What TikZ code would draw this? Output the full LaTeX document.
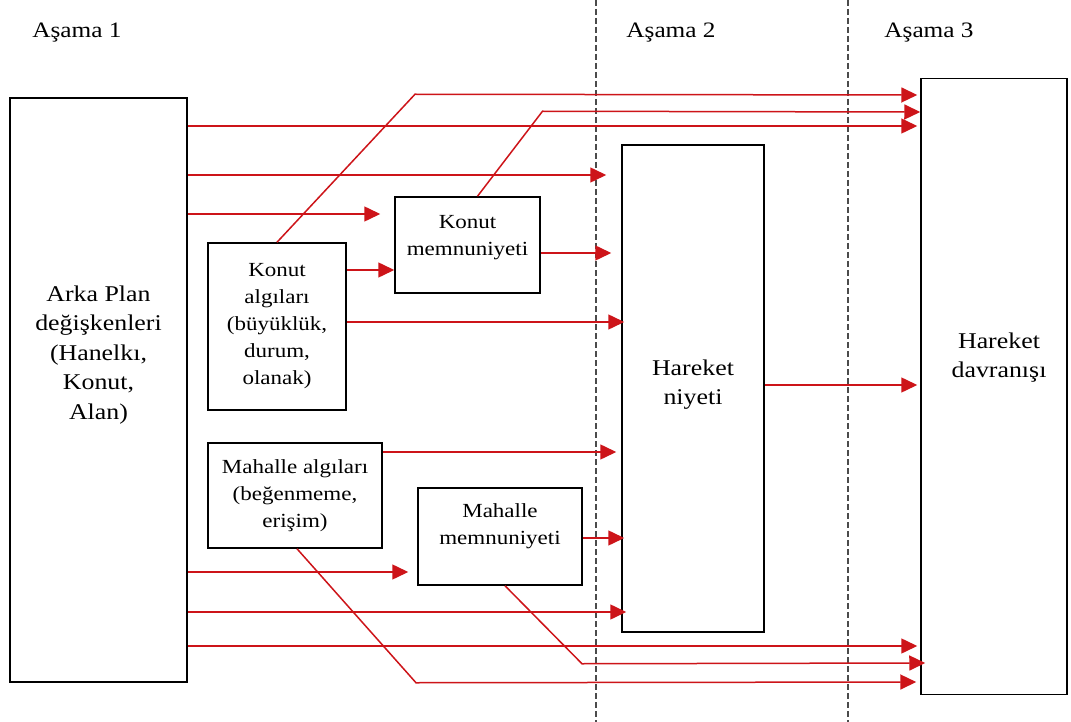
\documentclass[tikz,border=0pt]{standalone}
\usepackage{fontspec}
\setmainfont{Liberation Serif}[FakeStretch=1.15]
\usetikzlibrary{arrows.meta, positioning}
\definecolor{linkred}{RGB}{205,20,25}
\definecolor{phasegray}{RGB}{75,75,75}

\begin{document}
\begin{tikzpicture}[x=1pt, y=-1pt, >={Triangle[length=16pt,width=15pt]},
    box/.style={draw, line width=1.5pt, inner sep=0pt},
    smalltxt/.style={align=center, font={\fontsize{20}{27}\selectfont}},
    bigtxt/.style={align=center, font={\fontsize{22.5}{29.5}\selectfont}},
    phase/.style={anchor=base, font={\fontsize{22}{26}\selectfont}},
    phaseline/.style={draw=phasegray, line width=2pt, dash pattern=on 6pt off 3pt},
    link/.style={->, draw=linkred, line width=1.5pt}]
    \useasboundingbox[fill=white] (0,0) rectangle (1071,722);

    % Phase titles and borders
    \node[phase] (a1) at (77,38) {Aşama 1};
    \node[phase] (a2) at (671,38) {Aşama 2};
    \node[phase] (a3) at (929,38) {Aşama 3};
    \coordinate (d1top) at (596,0);
    \coordinate (d1bot) at (596,722);
    \coordinate (d2top) at (848,0);
    \coordinate (d2bot) at (848,722);
    \draw[phaseline] (d1top) -- (d1bot);
    \draw[phaseline] (d2top) -- (d2bot);

    % Boxes
    \node[box, minimum width=177, minimum height=584] (bg) at (98.5,390) {};
    \node[bigtxt] (bgtext) at ([yshift=35]bg.center) {Arka Plan\\değişkenleri\\(Hanelkı,\\Konut,\\Alan)};
    \node[box, minimum width=138, minimum height=167] (ka) at (277,326.5) {};
    \node[smalltxt] (katext) at (ka.center) {Konut\\algıları\\(büyüklük,\\durum,\\olanak)};
    \node[box, minimum width=145, minimum height=96] (km) at (467.5,245) {};
    \node[smalltxt] (kmtext) at ([yshift=7]km.center) {Konut\\memnuniyeti};
    \node[box, minimum width=174, minimum height=105] (ma) at (295,495.5) {};
    \node[smalltxt] (matext) at (ma.center) {Mahalle algıları\\(beğenmeme,\\erişim)};
    \node[box, minimum width=164, minimum height=97] (mm) at (500,536.5) {};
    \node[smalltxt] (mmtext) at ([yshift=10]mm.center) {Mahalle\\memnuniyeti};
    \node[box, minimum width=142, minimum height=487] (hn) at (693,388.5) {};
    \node[bigtxt] (hntext) at ([yshift=4]hn.center) {Hareket\\niyeti};
    \node[box, minimum width=146, minimum height=616] (hd) at (994,386.5) {};
    \node[bigtxt] (hdtext) at ([xshift=5,yshift=29]hd.center) {Hareket\\davranışı};

    % Links with a bend
    \draw[link, shorten >=3] (ka.north) -- ++(138,-148) -- (hd.west |- 0,95);
    \draw[link] ([xshift=10]km.north) -- ++(65,-85) -- (hd.west |- 0,112);
    \draw[link, shorten >=-5] ([xshift=5]mm.south) -- ++(77,78) -- (hd.west |- 0,663);
    \draw[link, shorten >=4] ([xshift=2]ma.south) -- ++(119,134) -- (hd.west |- 0,682);

    % Straight links
    \path (bg.east |- 0,126) edge[link, shorten >=3] (hd.west |- 0,126)
          (bg.east |- 0,175) edge[link, shorten >=15] (hn.west |- 0,175)
          (bg.east |- 0,214) edge[link, shorten >=14] (km.west |- 0,214)
          (ka.east |- 0,270) edge[link] (km.west |- 0,270)
          (km.east |- 0,253) edge[link, shorten >=10] (hn.west |- 0,253)
          (ka.east |- 0,322) edge[link, shorten >=-3] (hn.west |- 0,322)
          (hn.east |- 0,385) edge[link, shorten >=3] (hd.west |- 0,385)
          (ma.east |- 0,452) edge[link, shorten >=5] (hn.west |- 0,452)
          (mm.east |- 0,538) edge[link, shorten >=-3] (hn.west |- 0,538)
          (bg.east |- 0,572) edge[link, shorten >=9] (mm.west |- 0,572)
          (bg.east |- 0,612) edge[link, shorten >=-5] (hn.west |- 0,612)
          (bg.east |- 0,646) edge[link, shorten >=3] (hd.west |- 0,646);
\end{tikzpicture}
\end{document}
